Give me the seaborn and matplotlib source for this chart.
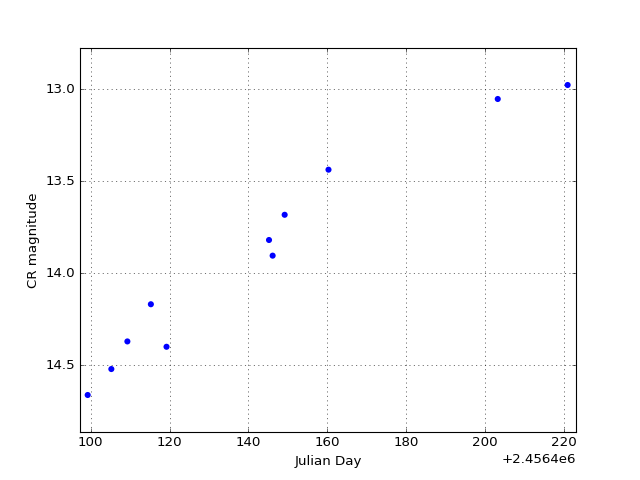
import matplotlib
matplotlib.use("Agg")
import matplotlib.pyplot as plt
import seaborn as sns
import pandas as pd

jd_offset = 2456400.0
julian_day = [99.24, 105.24, 109.31, 115.27, 119.24, 145.24, 146.16, 149.21, 160.33, 203.27, 221.0]
cr_mag = [14.661, 14.52, 14.37, 14.168, 14.399, 13.819, 13.904, 13.682, 13.437, 13.053, 12.977]

df = pd.DataFrame({"jd": [jd_offset + d for d in julian_day], "mag": cr_mag})

plt.style.use("classic")
plt.rcParams["font.family"] = ["DejaVu Sans"]
fig, ax = plt.subplots(figsize=(8, 6), dpi=80)
sns.scatterplot(data=df, x="jd", y="mag", ax=ax, color="blue", s=30,
                linewidth=0, edgecolor="none", zorder=3)
ax.set_xlim(jd_offset + 97.29, jd_offset + 223.12)
ax.set_ylim(14.862, 12.776)
ax.xaxis.get_major_formatter().set_useOffset(jd_offset)
ax.set_xlabel("Julian Day")
ax.set_ylabel("CR magnitude")
ax.grid(True)
fig.savefig("out.png", dpi=80)
